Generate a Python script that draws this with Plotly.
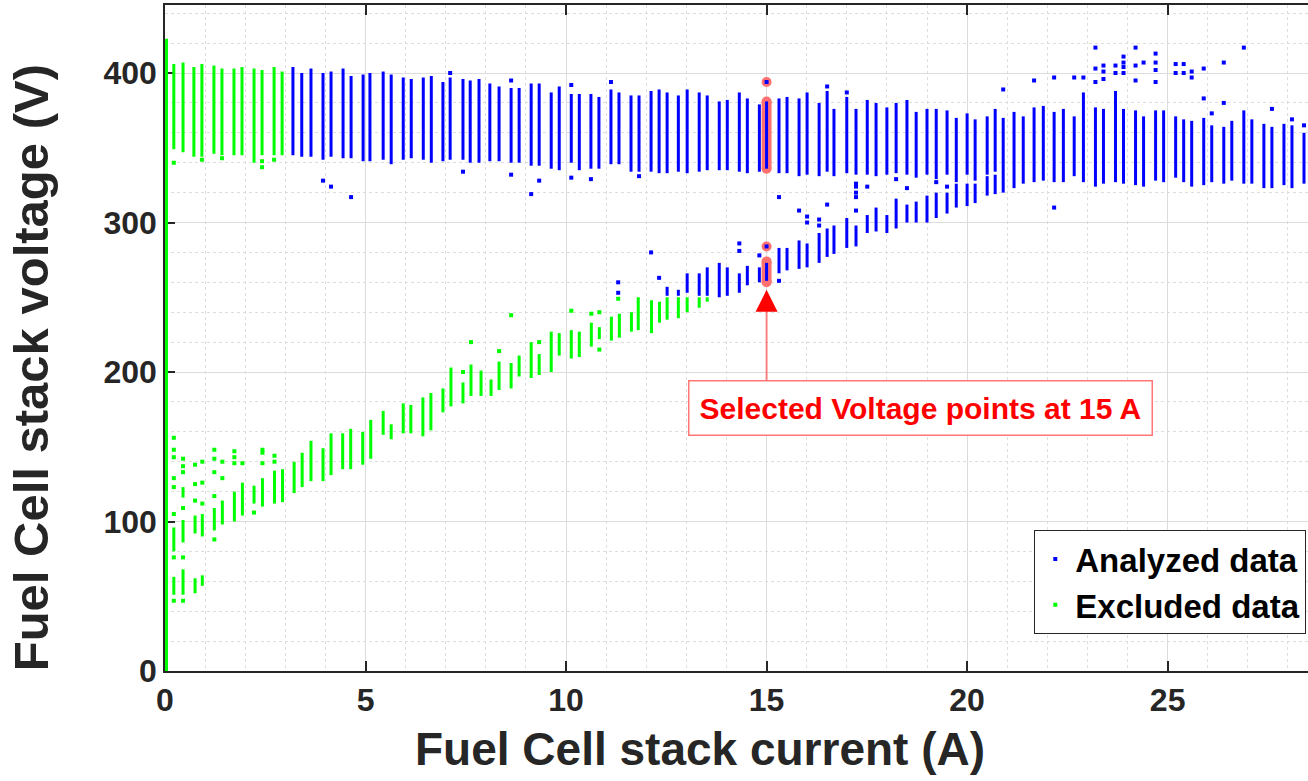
import plotly.graph_objects as go

# ---------------- data ----------------
# Excluded points recorded at 0 A (vertical run along the voltage axis)
zero_I = [0.0]
zero_lo = [0]
zero_hi = [423]

# Upper voltage band, excluded (green) strips: current, min V, max V
ex_up_I  = [0.22, 0.45, 0.72, 0.92, 1.22, 1.42, 1.72, 1.92, 2.22, 2.42, 2.72, 2.92]
ex_up_lo = [349,  347,  344,  344,  346,  345,  345,  345,  340,  345,  345,  345]
ex_up_hi = [406,  407,  404,  406,  405,  403,  403,  404,  403,  402,  404,  401]

# Upper voltage band, analyzed (blue) strips
an_up_I = [3.19, 3.41, 3.64, 3.94, 4.14, 4.44, 4.64, 4.94, 5.11, 5.44, 5.64, 5.94, 6.14, 6.44, 6.64,
           6.93, 7.11, 7.43, 7.61, 7.83, 8.10, 8.33, 8.63, 8.83, 9.13, 9.33, 9.63, 9.83, 10.13, 10.33,
           10.62, 10.82, 11.12, 11.32, 11.62, 11.82, 12.12, 12.32, 12.52, 12.80, 13.02, 13.32, 13.52,
           13.82, 14.02, 14.32, 14.52, 14.82, 15.00, 15.31, 15.51, 15.81, 16.01, 16.31, 16.51, 16.68,
           17.00, 17.23, 17.51, 17.73, 18.00, 18.23, 18.50, 18.73, 19.00, 19.23, 19.50, 19.73, 20.00,
           20.20, 20.50, 20.70, 20.90, 21.17, 21.40, 21.67, 21.90, 22.17, 22.40, 22.67, 22.90, 23.20,
           23.40, 23.70, 23.90, 24.20, 24.40, 24.70, 24.90, 25.20, 25.40, 25.60, 25.90, 26.10, 26.40,
           26.60, 26.90, 27.10, 27.40, 27.60, 27.90, 28.10, 28.40]
an_up_lo = [345, 344, 344, 342, 344, 343, 343, 341, 341, 342, 339, 342, 343, 342, 340,
            341, 342, 342, 340, 340, 341, 341, 340, 340, 338, 338, 336, 335, 340, 335,
            336, 336, 339, 339, 334, 334, 334, 333, 333, 334, 333, 334, 335,
            335, 335, 334, 333, 334, 336, 333, 333, 331, 332, 331, 334, 331,
            333, 332, 332, 331, 332, 333, 332, 330, 332, 329, 332, 327, 332,
            328, 332, 334, 320, 323, 326, 327, 328, 327, 327, 331, 327, 324,
            326, 327, 326, 325, 324, 328, 327, 330, 327, 324, 325, 327, 326,
            328, 326, 326, 323, 323, 325, 323, 326]
an_up_hi = [404, 400, 403, 400, 401, 403, 398, 399, 400, 401, 399, 397, 396, 397, 398,
            394, 397, 396, 395, 396, 393, 391, 390, 390, 393, 393, 387, 391, 386, 386,
            386, 384, 389, 387, 385, 385, 388, 389, 387, 385, 389, 387, 385,
            381, 382, 387, 383, 379, 381, 383, 384, 383, 387, 380, 388, 376,
            384, 376, 382, 380, 377, 380, 382, 374, 376, 376, 375, 370, 373,
            369, 371, 376, 370, 374, 371, 377, 378, 374, 376, 371, 387, 377,
            376, 388, 376, 375, 371, 375, 375, 371, 369, 368, 370, 365, 364,
            368, 375, 369, 366, 364, 366, 365, 360]

# Lower voltage band, analyzed (blue) strips
an_lo_I  = [12.52, 12.80, 13.02, 13.32, 13.52, 13.82, 14.02, 14.32, 14.52, 14.82, 15.00, 15.31,
            15.51, 15.81, 16.01, 16.31, 16.51, 16.68, 17.00, 17.23, 17.51, 17.73, 18.00, 18.23,
            18.50, 18.73, 19.00, 19.23, 19.50, 19.73, 20.00, 20.20, 20.50, 20.70]
an_lo_lo = [251, 251, 253, 251, 251, 250, 251, 253, 258, 260, 261, 266,
            268, 269, 270, 273, 277, 279, 283, 284, 293, 294, 293, 296,
            300, 300, 300, 303, 306, 310, 311, 313, 318, 319]
an_lo_hi = [257, 255, 266, 266, 270, 273, 270, 266, 271, 270, 273, 283,
            283, 288, 286, 293, 296, 298, 303, 298, 305, 310, 305, 316,
            312, 314, 318, 320, 320, 326, 326, 326, 331, 332]

# Lower voltage band, excluded (green) strips
ex_lo_I  = [0.22, 0.22, 0.45, 0.45, 0.45, 0.75, 0.75, 0.93, 0.93, 1.23, 1.43, 1.73, 1.93, 2.22,
            2.43, 2.73, 2.93, 3.22, 3.42, 3.64, 3.94, 4.14, 4.43, 4.63, 4.93, 5.13, 5.44, 5.64,
            5.94, 6.13, 6.43, 6.63, 6.93, 7.13, 7.43, 7.63, 7.88, 8.13, 8.33, 8.63, 8.83, 9.13,
            9.33, 9.63, 9.83, 10.13, 10.33, 10.63, 10.83, 11.13, 11.33, 11.63, 11.80, 12.13,
            12.33, 12.52, 12.80, 13.02, 13.32, 13.52]
ex_lo_lo = [80, 51, 86, 116, 51, 92, 52, 90, 57, 94, 98, 100, 104, 112,
            110, 112, 113, 119, 123, 127, 127, 131, 135, 135, 138, 142, 158, 155,
            159, 159, 157, 161, 173, 177, 179, 184, 184, 184, 188, 189, 197, 196,
            198, 200, 211, 209, 210, 217, 222, 221, 223, 227, 228, 226,
            233, 235, 236, 240, 243, 247]
ex_lo_hi = [96, 63, 101, 123, 68, 104, 62, 105, 64, 109, 114, 120, 126, 124,
            129, 134, 135, 140, 146, 154, 149, 159, 159, 162, 160, 168, 174, 165,
            179, 178, 183, 186, 189, 203, 193, 205, 201, 195, 207, 206, 211, 220,
            212, 227, 226, 228, 227, 233, 230, 237, 239, 240, 250, 248,
            247, 250, 250, 250, 250, 250]

# Isolated analyzed points
an_pt_I = [3.94, 4.14, 4.64, 7.43, 8.63, 9.13, 9.33, 10.13, 10.62, 11.82,
           11.30, 11.30, 12.12, 12.32, 14.32, 14.32, 14.82, 15.00, 15.31,
           15.31, 16.51, 15.81, 16.01, 16.01, 16.31, 16.31, 17.23, 17.23, 17.23, 17.23, 17.23,
           17.51, 18.23, 18.50, 19.23, 19.50,
           15.00, 20.90, 21.67, 22.17, 22.17, 22.67, 22.90, 23.20, 23.20, 23.20, 23.40, 23.40,
           23.40, 23.70, 23.70, 23.90, 23.90, 23.90, 23.90, 24.20, 24.20, 24.20, 24.40, 24.70,
           24.70, 24.70, 24.70, 25.20, 25.20, 25.40, 25.40, 25.60, 25.60, 25.90, 25.90, 26.10,
           26.40, 26.40, 26.90, 27.60, 28.10, 28.40, 7.11, 8.63, 10.13, 11.12, 16.51, 17.00]
an_pt_V = [328, 324, 317, 334, 332, 319, 328, 330, 329, 331,
           260, 253, 280, 263, 286, 281, 278, 284, 261,
           317, 312, 308, 304, 300, 302, 298, 308, 317, 320, 324, 326,
           324, 329, 323, 327, 324,
           394, 389, 395, 397, 310, 397, 397, 417, 403, 394, 405, 401,
           396, 405, 400, 411, 407, 404, 400, 417, 405, 395, 407, 413,
           407, 402, 394, 406, 400, 406, 400, 401, 397, 403, 383, 373,
           407, 380, 417, 376, 369, 365, 400, 395, 392, 394, 391, 387]

# Isolated excluded points
ex_pt_I = [0.22, 0.22, 0.22, 0.22, 0.22, 0.22, 0.22, 0.22, 0.45, 0.45, 0.45, 0.45, 0.45, 0.45,
           0.75, 0.75, 0.75, 0.93, 0.93, 0.93, 1.23, 1.23, 1.23, 1.23, 1.23, 1.43, 1.43,
           1.73, 1.73, 1.73, 1.93, 2.22, 2.43, 2.43, 2.43, 2.73, 2.73,
           7.43, 7.63, 8.33, 8.63, 9.33, 10.13, 10.63, 10.83, 10.83, 11.30,
           0.22, 0.92, 1.42, 2.42, 2.42, 2.72]
ex_pt_V = [156, 148, 143, 129, 123, 105, 76, 47, 142, 137, 133, 109, 76, 47,
           138, 125, 114, 140, 126, 112, 148, 142, 133, 117, 88, 140, 129,
           147, 143, 139, 139, 106, 148, 146, 139, 144, 140,
           200, 220, 214, 238, 220, 241, 239, 240, 215, 249,
           340, 342, 343, 341, 337, 342]

# Selected points at 15 A (highlighted)
sel_up_V  = [336, 381]
sel_top_V = [394]
sel_lo_V  = [260, 274]
sel_mid_V = [284]
sel_I = 15.0

x_ticks = [0, 5, 10, 15, 20, 25]
y_ticks = [0, 100, 200, 300, 400]

BLUE = "#0000ff"
GREEN = "#00ff00"
INK = "#262626"
FONT = "Liberation Sans"


def segments(I, lo, hi):
    xs, ys = [], []
    for i, a, b in zip(I, lo, hi):
        xs += [i, i, None]
        ys += [a, b, None]
    return xs, ys


fig = go.Figure()

# highlight of the selected voltage points (drawn under the data)
HL = "rgb(255,112,112)"
for vals in (sel_up_V, sel_top_V, sel_lo_V, sel_mid_V):
    fig.add_trace(go.Scatter(
        x=[sel_I] * len(vals), y=vals, mode="lines+markers",
        line=dict(color=HL, width=10), marker=dict(color=HL, size=10, symbol="circle"),
        showlegend=False, hoverinfo="skip"))

# analyzed data
xs, ys = segments(an_up_I, an_up_lo, an_up_hi)
x2, y2 = segments(an_lo_I, an_lo_lo, an_lo_hi)
fig.add_trace(go.Scatter(x=xs + x2, y=ys + y2, mode="lines",
                         line=dict(color=BLUE, width=3), showlegend=False,
                         legendgroup="an", hoverinfo="skip"))
fig.add_trace(go.Scatter(x=an_pt_I, y=an_pt_V, mode="markers", name="Analyzed data",
                         legendgroup="an",
                         marker=dict(color=BLUE, size=4, symbol="square", line=dict(width=0))))

# excluded data
xs, ys = segments(ex_up_I, ex_up_lo, ex_up_hi)
x2, y2 = segments(ex_lo_I, ex_lo_lo, ex_lo_hi)
fig.add_trace(go.Scatter(x=xs + x2, y=ys + y2, mode="lines",
                         line=dict(color=GREEN, width=3), showlegend=False,
                         legendgroup="ex", hoverinfo="skip"))
xs, ys = segments(zero_I, zero_lo, zero_hi)
fig.add_trace(go.Scatter(x=xs, y=ys, mode="lines",
                         line=dict(color=GREEN, width=6), showlegend=False,
                         legendgroup="ex", hoverinfo="skip"))
fig.add_trace(go.Scatter(x=ex_pt_I, y=ex_pt_V, mode="markers", name="Excluded data",
                         legendgroup="ex",
                         marker=dict(color=GREEN, size=4, symbol="square", line=dict(width=0))))

axis_common = dict(
    showline=True, linecolor=INK, linewidth=1.5,
    ticks="inside", ticklen=10, tickwidth=1.5, tickcolor=INK,
    showgrid=True, gridcolor="#dcdcdc", gridwidth=1,
    zeroline=False, layer="below traces",
    tickfont=dict(family=FONT, size=32, color=INK, weight="bold"),
)

fig.update_xaxes(range=[0, 28.5], tickvals=x_ticks, mirror="ticks",
                 minor=dict(dtick=1, showgrid=True, griddash="dot", gridcolor="#dedede"),
                 **axis_common)
fig.update_yaxes(range=[0, 445.5], tickvals=y_ticks, mirror=False,
                 minor=dict(dtick=20, showgrid=True, griddash="dot", gridcolor="#dedede"),
                 **axis_common)

# arrow line (light red) and arrow head (solid red)
fig.add_shape(type="line", x0=sel_I, x1=sel_I, y0=194.6, y1=250,
              xref="x", yref="y", line=dict(color="rgba(255,60,60,0.6)", width=2))
fig.add_annotation(x=sel_I, y=255, ax=sel_I, ay=243, xref="x", yref="y", axref="x", ayref="y",
                   text="", showarrow=True, arrowhead=2, arrowsize=2.2, arrowwidth=2,
                   arrowcolor="red", standoff=0)
fig.add_annotation(x=18.84, y=175.6, xref="x", yref="y", showarrow=False,
                   text="Selected Voltage points at 15 A",
                   font=dict(family=FONT, size=30, color="red", weight="bold"),
                   bgcolor="white", bordercolor="rgba(255,60,60,0.7)", borderwidth=1.5,
                   borderpad=10)

# axis titles
fig.add_annotation(x=(700 - 165) / 1143, y=-0.117, xref="paper", yref="paper",
                   xanchor="center", yanchor="middle", showarrow=False,
                   text="Fuel Cell stack current (A)",
                   font=dict(family=FONT, size=46, color=INK, weight="bold"))
fig.add_annotation(x=-0.117, y=(671 - 368) / 666, xref="paper", yref="paper",
                   xanchor="center", yanchor="middle", showarrow=False, textangle=-90,
                   text="Fuel Cell stack voltage (V)",
                   font=dict(family=FONT, size=49, color=INK, weight="bold"))

fig.update_layout(
    width=1308, height=781,
    margin=dict(l=165, r=0, t=5, b=110),
    paper_bgcolor="white", plot_bgcolor="white",
    showlegend=True,
    legend=dict(x=0.9985, y=0.0556, xanchor="right", yanchor="bottom",
                bgcolor="white", bordercolor=INK, borderwidth=1,
                font=dict(family=FONT, size=33, color="black", weight="bold"),
                tracegroupgap=0),
)

fig.write_html("out.html")
